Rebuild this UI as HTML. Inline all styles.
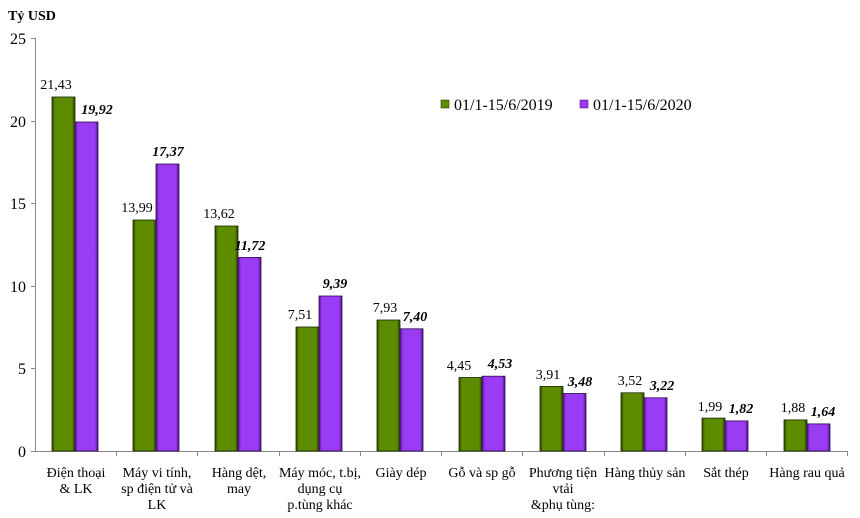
<!DOCTYPE html>
<html><head><meta charset="utf-8"><style>
body{margin:0;background:#fff;}
svg{display:block;font-family:"Liberation Serif",serif;}
</style></head><body>
<svg width="860" height="518" viewBox="0 0 860 518" xmlns="http://www.w3.org/2000/svg">
<defs>
<linearGradient id="g" x1="0" x2="1" y1="0" y2="0">
<stop offset="0" stop-color="#2f4800"/><stop offset="0.14" stop-color="#5e8c00"/><stop offset="0.86" stop-color="#5e8c00"/><stop offset="1" stop-color="#2a4000"/></linearGradient>
<linearGradient id="p" x1="0" x2="1" y1="0" y2="0">
<stop offset="0" stop-color="#5a1898"/><stop offset="0.14" stop-color="#9a3cf4"/><stop offset="0.86" stop-color="#9a3cf4"/><stop offset="1" stop-color="#4e1585"/></linearGradient>
</defs>
<text x="8" y="20" font-size="14" font-weight="bold">Tỷ USD</text>
<g stroke="#888" stroke-width="1">
<line x1="35.5" y1="38" x2="35.5" y2="451"/>
<line x1="35" y1="451.5" x2="848" y2="451.5"/>
<line x1="31" y1="38.5" x2="35" y2="38.5"/><line x1="31" y1="121.5" x2="35" y2="121.5"/><line x1="31" y1="203.5" x2="35" y2="203.5"/><line x1="31" y1="286.5" x2="35" y2="286.5"/><line x1="31" y1="368.5" x2="35" y2="368.5"/><line x1="31" y1="451.5" x2="35" y2="451.5"/>
<line x1="116.5" y1="451" x2="116.5" y2="456"/><line x1="197.5" y1="451" x2="197.5" y2="456"/><line x1="279.5" y1="451" x2="279.5" y2="456"/><line x1="360.5" y1="451" x2="360.5" y2="456"/><line x1="441.5" y1="451" x2="441.5" y2="456"/><line x1="522.5" y1="451" x2="522.5" y2="456"/><line x1="604.5" y1="451" x2="604.5" y2="456"/><line x1="685.5" y1="451" x2="685.5" y2="456"/><line x1="766.5" y1="451" x2="766.5" y2="456"/><line x1="847.5" y1="451" x2="847.5" y2="456"/>
</g>
<g font-size="16" text-anchor="end">
<text x="26" y="44">25</text><text x="26" y="127">20</text><text x="26" y="209">15</text><text x="26" y="292">10</text><text x="26" y="374">5</text><text x="26" y="457">0</text>
</g>
<g stroke="#1a2a00" stroke-width="0.8">
<rect x="52" y="97" width="23" height="354" fill="url(#g)"/>
<rect x="133" y="220" width="23" height="231" fill="url(#g)"/>
<rect x="215" y="226" width="23" height="225" fill="url(#g)"/>
<rect x="296" y="327" width="23" height="124" fill="url(#g)"/>
<rect x="377" y="320" width="23" height="131" fill="url(#g)"/>
<rect x="459" y="377.5" width="23" height="73.5" fill="url(#g)"/>
<rect x="540" y="386.4" width="23" height="64.6" fill="url(#g)"/>
<rect x="621" y="392.8" width="23" height="58.2" fill="url(#g)"/>
<rect x="702" y="418.1" width="23" height="32.9" fill="url(#g)"/>
<rect x="784" y="419.9" width="23" height="31.1" fill="url(#g)"/>
</g>
<g stroke="#2e0a50" stroke-width="0.8">
<rect x="75" y="122" width="23" height="329" fill="url(#p)"/>
<rect x="156" y="164" width="23" height="287" fill="url(#p)"/>
<rect x="238" y="257.4" width="23" height="193.6" fill="url(#p)"/>
<rect x="319" y="296" width="23" height="155" fill="url(#p)"/>
<rect x="400" y="328.8" width="23" height="122.2" fill="url(#p)"/>
<rect x="482" y="376.2" width="23" height="74.8" fill="url(#p)"/>
<rect x="563" y="393.5" width="23" height="57.5" fill="url(#p)"/>
<rect x="644" y="397.8" width="23" height="53.2" fill="url(#p)"/>
<rect x="725" y="420.9" width="23" height="30.1" fill="url(#p)"/>
<rect x="807" y="423.9" width="23" height="27.1" fill="url(#p)"/>
</g>
<g font-size="14" text-anchor="middle">
<text x="56" y="89">21,43</text>
<text x="137" y="212">13,99</text>
<text x="219" y="218">13,62</text>
<text x="300" y="319">7,51</text>
<text x="385" y="312">7,93</text>
<text x="459" y="370">4,45</text>
<text x="548" y="379">3,91</text>
<text x="630" y="385">3,52</text>
<text x="710" y="411">1,99</text>
<text x="793" y="412">1,88</text>
</g>
<g font-size="14" text-anchor="middle" font-weight="bold" font-style="italic">
<text x="97" y="114">19,92</text>
<text x="168" y="156">17,37</text>
<text x="250" y="250">11,72</text>
<text x="335" y="288">9,39</text>
<text x="415" y="321">7,40</text>
<text x="500" y="368">4,53</text>
<text x="580" y="386">3,48</text>
<text x="662" y="390">3,22</text>
<text x="741" y="413">1,82</text>
<text x="823" y="416">1,64</text>
</g>
<rect x="441" y="100" width="8" height="8" fill="#5e8c00" stroke="#2f4800" stroke-width="0.6"/>
<text x="454" y="110" font-size="16">01/1-15/6/2019</text>
<rect x="580" y="100" width="8" height="8" fill="#9a3cf4" stroke="#5a1898" stroke-width="0.6"/>
<text x="593" y="110" font-size="16">01/1-15/6/2020</text>
<g font-size="14" text-anchor="middle">
<text x="76" y="477">Điện thoại</text><text x="76" y="493">&amp; LK</text>
<text x="157" y="477">Máy vi tính,</text><text x="157" y="493">sp điện tử và</text><text x="157" y="509">LK</text>
<text x="239" y="477">Hàng dệt,</text><text x="239" y="493">may</text>
<text x="320" y="477">Máy móc, t.bị,</text><text x="320" y="493">dụng cụ</text><text x="320" y="509">p.tùng khác</text>
<text x="401" y="477">Giày dép</text>
<text x="482" y="477">Gỗ và sp gỗ</text>
<text x="563" y="477">Phương tiện</text><text x="563" y="493">vtải</text><text x="563" y="509">&amp;phụ tùng:</text>
<text x="645" y="477">Hàng thủy sản</text>
<text x="726" y="477">Sắt thép</text>
<text x="807" y="477">Hàng rau quả</text>
</g>
</svg>
</body></html>
